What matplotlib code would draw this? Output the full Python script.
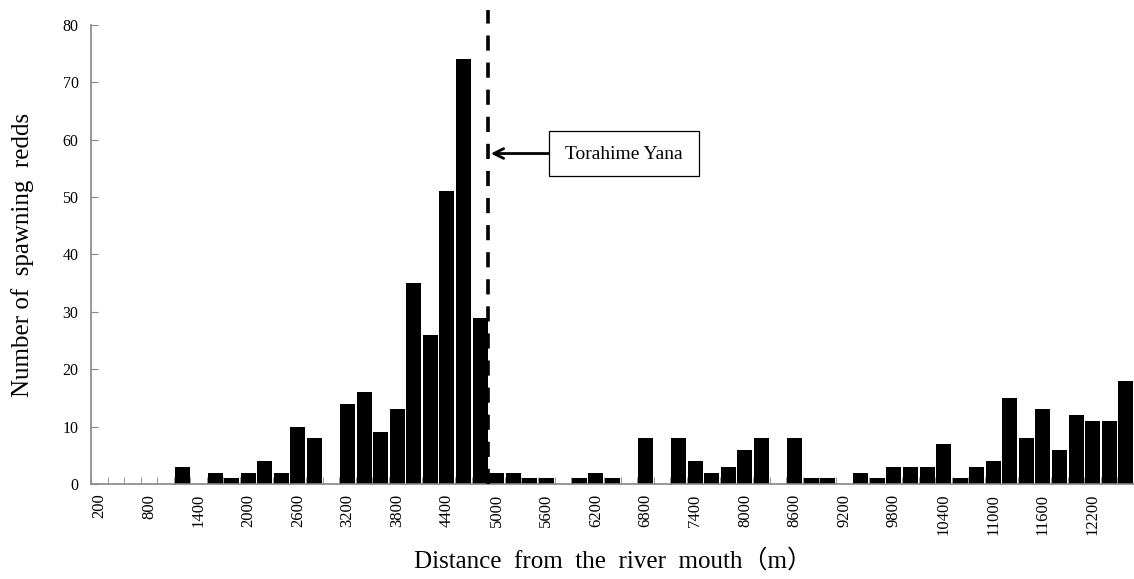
import matplotlib
matplotlib.use("Agg")
import matplotlib.pyplot as plt
from matplotlib.patches import Rectangle
import numpy as np

plt.rcParams['font.family'] = ['Liberation Serif', 'Noto Sans CJK JP', 'DejaVu Sans']

distances = list(range(200, 12601, 200))
redds = [0, 0, 0, 0, 0, 3, 0, 2, 1, 2, 4, 2, 10, 8, 0, 14, 16, 9, 13, 35,
         26, 51, 74, 29, 2, 2, 1, 1, 0, 1, 2, 1, 0, 8, 0, 8, 4, 2, 3, 6,
         8, 0, 8, 1, 1, 0, 2, 1, 3, 3, 3, 7, 1, 3, 4, 15, 8, 13, 6, 12,
         11, 11, 18]
tick_labels = [str(d) for d in range(200, 12201, 600)]
weir_after = 4800
weir_label = "Torahime Yana"

W, H = 1134, 579
fig = plt.figure(figsize=(W / 100, H / 100), dpi=100)
ax = fig.add_axes([91 / W, 1 - 484 / H, (1134 - 91) / W, (484 - 25) / H])

x = np.arange(len(distances))
ax.bar(x, redds, width=0.9, color='black', edgecolor='none', zorder=2)

ax.set_xlim(-0.5, len(distances) - 0.5)
ax.set_ylim(0, 80)
ax.set_yticks(range(0, 81, 10))
ax.tick_params(axis='y', direction='in', length=5, color='#868686', labelsize=11.5, pad=9)

label_pos = [distances.index(int(t)) for t in tick_labels]
ax.set_xticks(label_pos)
ax.set_xticklabels(tick_labels, rotation=90, fontsize=12)
ax.tick_params(axis='x', which='major', length=0, pad=7)
ax.set_xticks(np.arange(-0.5, len(distances), 1), minor=True)
ax.tick_params(axis='x', which='minor', direction='in', length=5, color='#868686')

for s in ['top', 'right']:
    ax.spines[s].set_visible(False)
for s in ['left', 'bottom']:
    ax.spines[s].set_color('#868686')
    ax.spines[s].set_linewidth(1.2)

ax.set_ylabel("Number of  spawning  redds", fontsize=18, va='center')
ax.yaxis.set_label_coords(-0.066, 0.5)
ax.set_xlabel("Distance  from  the  river  mouth（m）", fontsize=18, va='center')
ax.xaxis.set_label_coords(0.5, -0.168)

# weir line
xw = distances.index(weir_after) + 0.5
ax.plot([xw, xw], [0, 82.7], color='black', lw=2.6, dashes=(4.2, 3.3),
        clip_on=False, zorder=3)

# annotation box
ax.add_patch(Rectangle((27.15, 53.6), 9.05, 7.85, facecolor='white',
                       edgecolor='black', lw=0.9, zorder=4))
ax.text(31.67, 57.4, weir_label, ha='center', va='center', fontsize=14, zorder=5)
ax.annotate("", xy=(xw + 0.15, 57.6), xytext=(27.15, 57.6),
            arrowprops=dict(arrowstyle='->,head_length=0.7,head_width=0.35',
                            lw=2, color='black', shrinkA=0, shrinkB=0), zorder=5)

fig.savefig("out.png", dpi=100)
